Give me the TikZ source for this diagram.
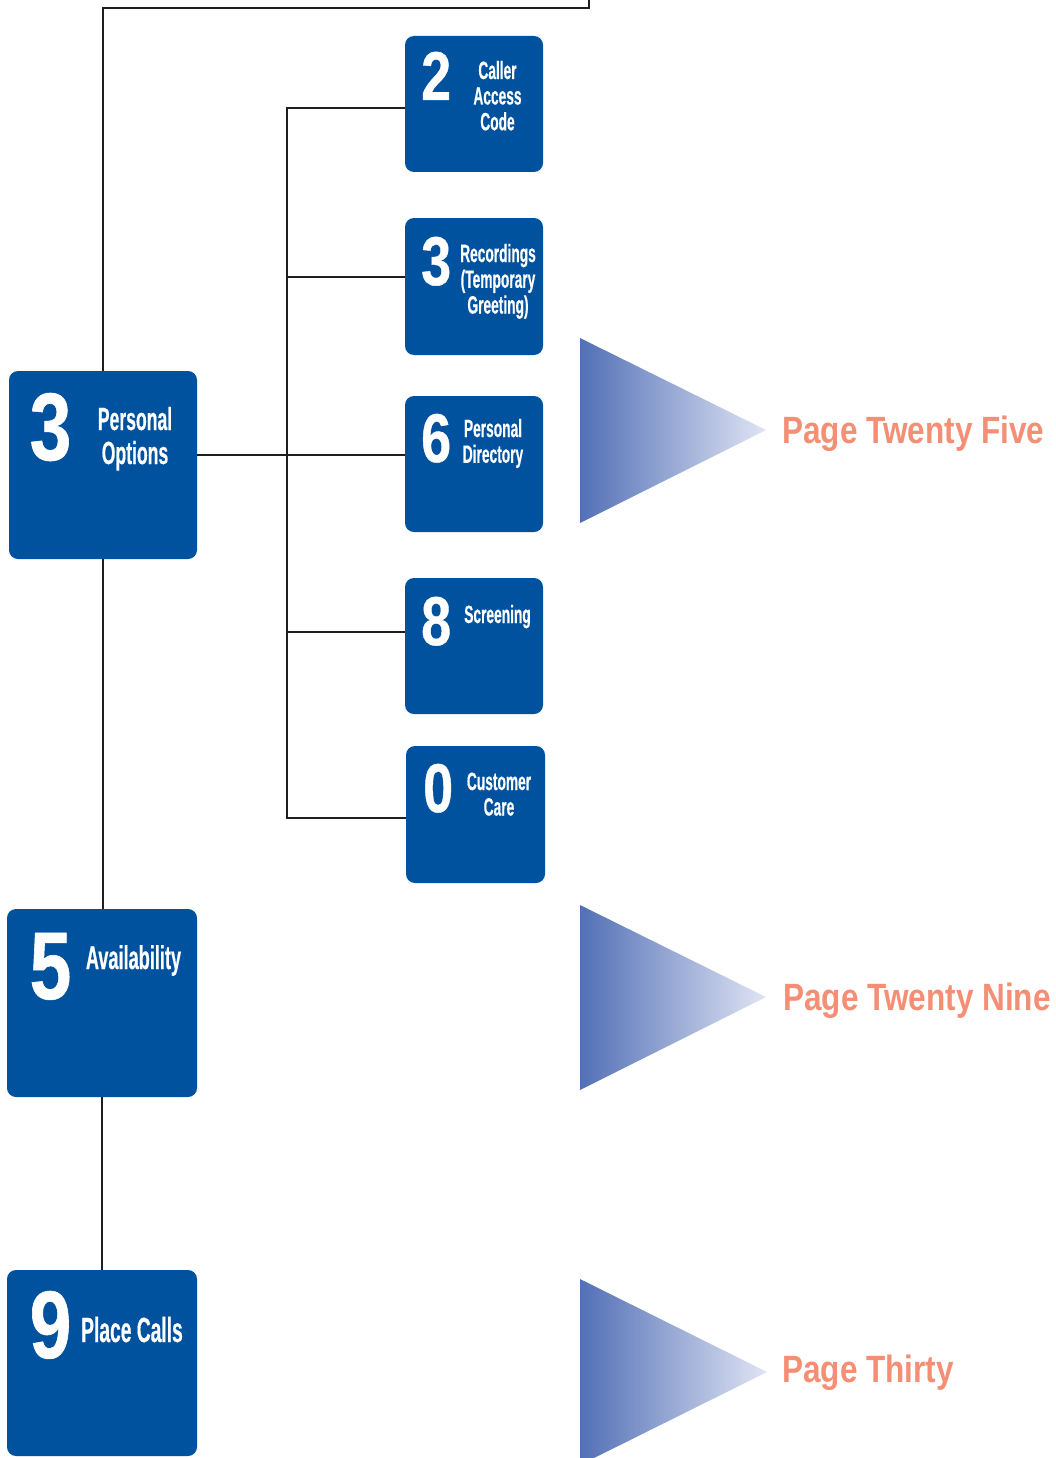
\documentclass[tikz,border=0pt]{standalone}
\usepackage{fontspec}
\newfontface\digitface{Liberation Sans Bold}[FakeStretch=0.78, FakeBold=0.6]
\newfontface\labelface{Liberation Sans Bold}[FakeStretch=0.55, FakeBold=0.4]
\newfontface\pageface{Liberation Sans Bold}[FakeStretch=0.83]
\definecolor{boxblue}{RGB}{0,82,159}
\definecolor{pagesalmon}{RGB}{244,142,116}
\definecolor{wirecol}{RGB}{30,30,30}
\definecolor{wedgedark}{RGB}{82,112,182}
\definecolor{wedgelight}{RGB}{224,228,244}
% centred stack of lines whose baseline is that of the first line
\newcommand\tilelines[1]{\begin{tabular}[t]{@{}c@{}}#1\end{tabular}}
\tikzset{
  wire/.style={draw=wirecol, line width=2.4pt, line join=miter},
  tile/.style={fill=boxblue, rounded corners=9pt, inner sep=0pt},
  bigtile/.style={tile, minimum width=189pt, minimum height=188pt},
  smalltile/.style={tile, minimum width=138pt, minimum height=137pt},
  bignum/.style={text=white, inner sep=0pt, anchor=base west,
    font=\digitface\fontsize{96}{96}\selectfont},
  smallnum/.style={text=white, inner sep=0pt, anchor=base west,
    font=\digitface\fontsize{69}{69}\selectfont},
  biglbl/.style={text=white, inner sep=0pt, anchor=base,
    font=\labelface\fontsize{33}{34}\selectfont},
  smalllbl/.style={text=white, inner sep=0pt, anchor=base,
    font=\labelface\fontsize{25}{25.5}\selectfont},
  pagelbl/.style={text=pagesalmon, inner sep=0pt, anchor=base west,
    font=\pageface\fontsize{38}{38}\selectfont},
  wedge/.style={left color=wedgedark, right color=wedgelight},
}
\begin{document}
\begin{tikzpicture}[x=1pt, y=-1pt]
\useasboundingbox (0,0) rectangle (1055,1458);
\clip (0,0) rectangle (1055,1458);

% main menu tiles
\node[bigtile, minimum width=188pt] (p3) at (103,465) {};
\node[bigtile, minimum width=190pt] (p5) at (102,1003) {};
\node[bigtile, minimum width=190pt, minimum height=186pt] (p9) at (102,1363) {};

% personal options sub-menu tiles
\node[smalltile, minimum height=136pt] (o2) at (474,104) {};
\node[smalltile] (o3) at (474,286.5) {};
\node[smalltile, minimum height=136pt] (o6) at (474,464) {};
\node[smalltile, minimum height=136pt] (o8) at (474,646) {};
\node[smalltile, minimum width=139pt] (o0) at (475.5,814.5) {};

% connectors
\coordinate (topbend) at (103,8);
\coordinate (topexit) at (589,-4);
\coordinate (j2) at (287,108);
\coordinate (j3) at (287,277);
\coordinate (j6) at (287,455);
\coordinate (j8) at (287,632);
\coordinate (j0) at (287,818);

\draw[wire] (p3.north) -- (topbend) -| (topexit);
\draw[wire] (p3.south) -- (p3.south |- p5.north);
\draw[wire] (p5.south) -- (p5.south |- p9.north);
\draw[wire] (j2 -| o2.west) -- (j2) -- (j0) -- (j0 -| o0.west);
\draw[wire] (j3) -- (j3 -| o3.west);
\draw[wire] (p3.east |- j6) -- (j6 -| o6.west);
\draw[wire] (j8) -- (j8 -| o8.west);

% tile numbers
\node[bignum] (n3) at (29.5,460) {3};
\node[bignum] (n5) at (29.5,999) {5};
\node[bignum] (n9) at (29.5,1358) {9};
\node[smallnum] (m2) at (421,100) {2};
\node[smallnum] (m3) at (421,285) {3};
\node[smallnum] (m6) at (421,462) {6};
\node[smallnum] (m8) at (421,645) {8};
\node[smallnum] (m0) at (423,812) {0};

% tile captions
\node[biglbl, font=\labelface\fontsize{32}{34}\selectfont] (l3) at (135,430) {\tilelines{Personal\\Options}};
\node[biglbl] (l5) at (133.5,969) {Availability};
\node[biglbl, font=\labelface\fontsize{35}{35}\selectfont] (l9) at (132,1342) {Place Calls};
\node[smalllbl] (k2) at (497.5,79) {\tilelines{Caller\\Access\\Code}};
\node[smalllbl] (k3) at (498,262) {\tilelines{Recordings\\(Temporary\\Greeting)}};
\node[smalllbl] (k6) at (493,437) {\tilelines{Personal\\Directory}};
\node[smalllbl] (k8) at (497.5,623) {Screening};
\node[smalllbl] (k0) at (499,790) {\tilelines{Customer\\Care}};

% page pointers
\shade[wedge] (580,338) -- (580,523) -- (766,430) -- cycle;
\shade[wedge] (580,905) -- (580,1090) -- (766,997) -- cycle;
\shade[wedge] (580,1279) -- (580,1465) -- (767,1372) -- cycle;
\node[pagelbl] (g25) at (782,443) {Page Twenty Five};
\node[pagelbl] (g29) at (783,1010) {Page Twenty Nine};
\node[pagelbl] (g30) at (782,1382) {Page Thirty};
\end{tikzpicture}
\end{document}
